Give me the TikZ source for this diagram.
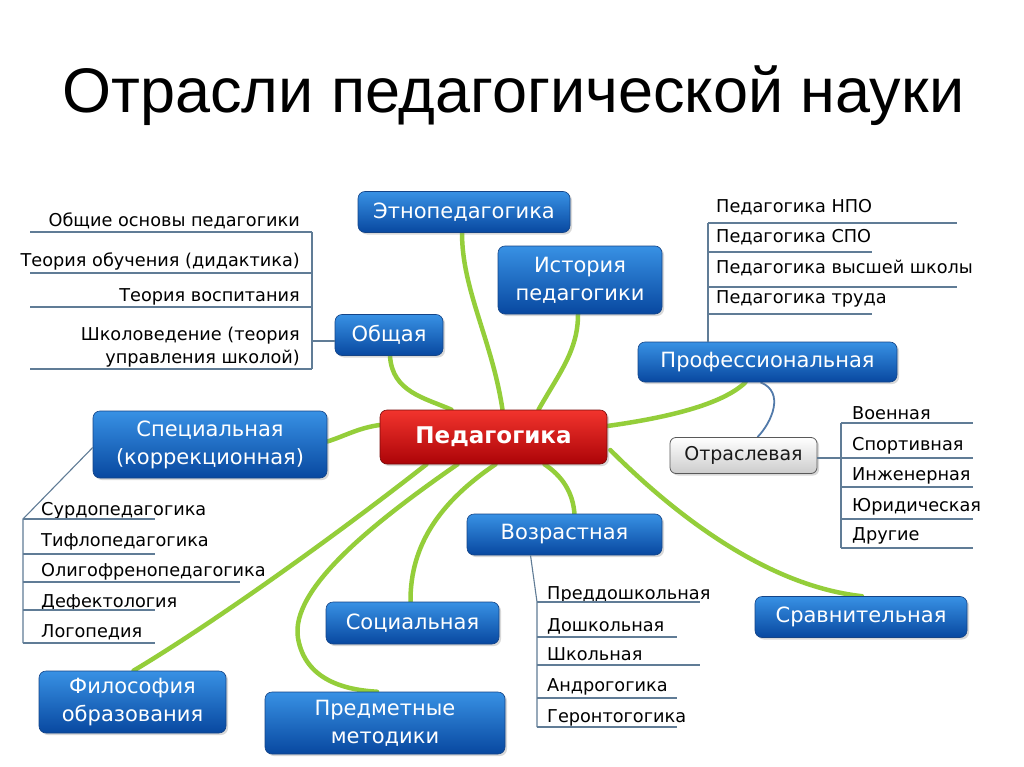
\documentclass[tikz,border=0pt]{standalone}
\usepackage{fontspec}
\setmainfont{Liberation Sans}
\newfontfamily\df{DejaVu Sans}
\usetikzlibrary{shadows,calc}
\definecolor{bluetop}{RGB}{56,145,228}
\definecolor{bluebot}{RGB}{8,72,160}
\definecolor{blueedge}{RGB}{20,68,135}
\definecolor{redtop}{RGB}{242,52,45}
\definecolor{redbot}{RGB}{172,4,8}
\definecolor{rededge}{RGB}{120,10,10}
\definecolor{greenl}{RGB}{148,206,58}
\definecolor{listc}{RGB}{96,124,150}
\definecolor{curvec}{RGB}{82,122,170}
\pgfdeclarelayer{back}
\pgfdeclarelayer{lines}
\pgfsetlayers{back,lines,main}
\begin{document}
\begin{tikzpicture}[x=1pt,y=-1pt,
  box/.style={rounded corners=7pt, align=center, inner sep=0pt,
    drop shadow={opacity=0.3,shadow xshift=2pt,shadow yshift=-2pt}},
  bluebox/.style={box, draw=blueedge, line width=0.6pt, top color=bluetop, bottom color=bluebot,
    text=white, font=\df\fontsize{21}{28}\selectfont},
  redbox/.style={box, draw=rededge, line width=0.6pt, top color=redtop, bottom color=redbot,
    text=white, font=\df\bfseries\fontsize{23}{28}\selectfont},
  greybox/.style={box, rounded corners=6pt, draw=black!65, line width=0.8pt, top color=white, bottom color=black!20,
    text=black!90, font=\df\fontsize{19}{24}\selectfont},
  gline/.style={draw=greenl, line width=4.5pt, line cap=round},
  ll/.style={draw=listc, line width=1.1pt},
  lt/.style={font=\df\fontsize{17.7}{20}\selectfont, inner sep=0pt, text=black},
]
\useasboundingbox (0,0) rectangle (1024,767);
\begin{pgfonlayer}{back}
\fill[white] (0,0) rectangle (1024,767);
\end{pgfonlayer}

% title
\node[anchor=base west, font=\fontsize{63}{66}\selectfont, inner sep=0pt] (title) at (62,113) {Отрасли педагогической науки};

% boxes
\path
 (493.5,437) node[redbox, minimum width=227, minimum height=54] (ped) {Педагогика}
 (464,212) node[bluebox, minimum width=212, minimum height=41] (etno) {Этнопедагогика}
 (580,280) node[bluebox, minimum width=164, minimum height=68] (ist) {История\\педагогики}
 (389,335) node[bluebox, minimum width=108, minimum height=41] (obsh) {Общая}
 (767.5,362) node[bluebox, minimum width=259, minimum height=40] (prof) {Профессиональная}
 (210,444.5) node[bluebox, minimum width=234, minimum height=67] (spets) {Специальная\\(коррекционная)}
 (743.5,455.5) node[greybox, minimum width=147, minimum height=36] (otr) {Отраслевая}
 (564.5,534.5) node[bluebox, minimum width=195, minimum height=41] (vozr) {Возрастная}
 (412.5,623) node[bluebox, minimum width=173, minimum height=42] (soc) {Социальная}
 (861,617) node[bluebox, minimum width=212, minimum height=41] (sravn) {Сравнительная}
 (132.5,702) node[bluebox, minimum width=187, minimum height=62] (filos) {Философия\\образования}
 (385,723) node[bluebox, minimum width=240, minimum height=62] (pred) {Предметные\\методики};

% green connectors
\begin{pgfonlayer}{lines}
\draw[gline] ($(ped.north)+(9,0)$) .. controls (492,340) and (462,290) .. ($(etno.south)+(-2,0)$);
\draw[gline] ($(ped.north)+(45,0)$) .. controls (560,372) and (578,350) .. ($(ist.south)+(-2,0)$);
\draw[gline] ($(ped.north)+(-42,0)$) .. controls (425,398) and (392,392) .. ($(obsh.south)+(1,0)$);
\draw[gline] ($(ped.east)+(0,-11)$) .. controls (665,418) and (722,405) .. ($(prof.south)+(-22,0)$);
\draw[gline] ($(ped.west)+(0,-12)$) .. controls (358,428) and (345,436) .. ($(spets.east)+(0,-3)$);
\draw[gline] ($(ped.east)+(3,13)$) .. controls (665,505) and (760,585) .. ($(sravn.north)+(1,0)$);
\draw[gline] ($(ped.south)+(51,0)$) .. controls (562,476) and (573,492) .. ($(vozr.south)+(10,-41)$);
\draw[gline] ($(ped.south)+(2,0)$) .. controls (440,502) and (410,545) .. ($(soc.north)+(-2,0)$);
\draw[gline] ($(ped.south)+(-36,0)$) .. controls (370,525) and (290,590) .. (298,638)
   .. controls (305,680) and (345,690) .. ($(pred.north)+(-8,0)$);
\draw[gline] ($(ped.south)+(-67,0)$) .. controls (330,540) and (210,625) .. ($(filos.north)+(1,0)$);

% Профессиональная -> Отраслевая
\draw[draw=curvec, line width=1.8pt] ($(prof.south)+(-7,0)$) .. controls (785,392) and (772,422) .. ($(otr.north)+(14,0)$);
\end{pgfonlayer}

% list: Общая
\node[lt, anchor=base east] (o1) at (300,226) {Общие основы педагогики};
\node[lt, anchor=base east] (o2) at (300,266) {Теория обучения (дидактика)};
\node[lt, anchor=base east] (o3) at (300,301) {Теория воспитания};
\node[lt, anchor=base east] (o4) at (300,340) {Школоведение (теория};
\node[lt, anchor=base east] (o5) at (300,363) {управления школой)};
\draw[ll] (30,232) -- (312,232) (30,273) -- (312,273) (30,307) -- (312,307) (30,369) -- (312,369)
  (312,232) -- (312,369);
\coordinate (obj) at (312,341);
\draw[ll] (obj) -- (obsh.west |- obj);

% list: Профессиональная
\node[lt, anchor=base west] (p1) at (716,213) {Педагогика НПО};
\node[lt, anchor=base west] (p2) at (716,243) {Педагогика СПО};
\node[lt, anchor=base west] (p3) at (716,273) {Педагогика высшей школы};
\node[lt, anchor=base west] (p4) at (716,303) {Педагогика труда};
\draw[ll] (708,223) -- (957,223) (708,252) -- (872,252) (708,287) -- (957,287) (708,314) -- (872,314);
\coordinate (pj) at (708,223);
\draw[ll] (pj) -- (pj |- prof.north);

% list: Отраслевая
\node[lt, anchor=base west] (r1) at (852,419) {Военная};
\node[lt, anchor=base west] (r2) at (852,450) {Спортивная};
\node[lt, anchor=base west] (r3) at (852,480) {Инженерная};
\node[lt, anchor=base west] (r4) at (852,511) {Юридическая};
\node[lt, anchor=base west] (r5) at (852,540) {Другие};
\draw[ll] (841,423) -- (973,423) (841,458) -- (973,458) (841,487) -- (973,487) (841,519) -- (973,519) (841,548) -- (973,548)
  (841,423) -- (841,548);
\coordinate (rj) at (841,458);
\draw[ll] ($(otr.east)+(0,2.5)$) -- (rj);

% list: Специальная
\node[lt, anchor=base west] (s1) at (41,515) {Сурдопедагогика};
\node[lt, anchor=base west] (s2) at (41,546) {Тифлопедагогика};
\node[lt, anchor=base west] (s3) at (41,576) {Олигофренопедагогика};
\node[lt, anchor=base west] (s4) at (41,607) {Дефектология};
\node[lt, anchor=base west] (s5) at (41,637) {Логопедия};
\coordinate (sj) at (23,519);
\draw[ll] ($(spets.west)+(0,3)$) -- (sj) -- (23,643);
\draw[ll] (23,519) -- (155,519) (23,554) -- (155,554) (23,582) -- (240,582) (23,610) -- (155,610) (23,643) -- (155,643);

% list: Возрастная
\node[lt, anchor=base west] (v1) at (547,599) {Преддошкольная};
\node[lt, anchor=base west] (v2) at (547,631) {Дошкольная};
\node[lt, anchor=base west] (v3) at (547,660) {Школьная};
\node[lt, anchor=base west] (v4) at (547,691) {Андрогогика};
\node[lt, anchor=base west] (v5) at (547,722) {Геронтогогика};
\coordinate (vj) at (537,602);
\draw[ll] ($(vozr.south)+(-34,0)$) -- (vj) -- (537,727);
\draw[ll] (537,602) -- (700,602) (537,637) -- (677,637) (537,665) -- (700,665) (537,698) -- (677,698) (537,727) -- (677,727);
\end{tikzpicture}
\end{document}
